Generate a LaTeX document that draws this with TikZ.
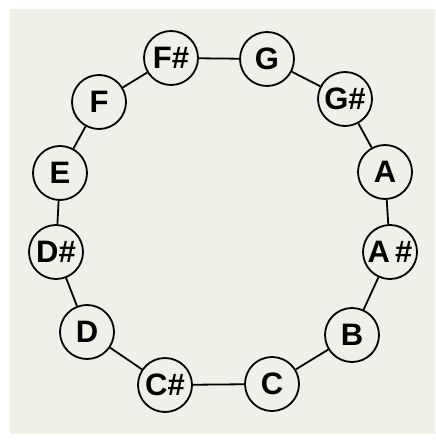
\documentclass[tikz,border=0pt]{standalone}
\usepackage{fontspec}
\setmainfont{Liberation Sans}
\usepackage{tikz}
\definecolor{paper}{RGB}{240,240,233}

\begin{document}
\begin{tikzpicture}[x=1pt, y=-1pt,
		note/.style={draw, circle, line width=1.8pt, fill=paper, minimum size=54pt, inner sep=0pt, font=\fontsize{31}{31}\selectfont\bfseries}]
				\useasboundingbox (0,0) rectangle (435,443);
				\fill[white] (0,0) rectangle (435,443);
				\fill[paper] (10,9) rectangle (435,434);
				\node[note] (fs) at (171,58) {F\#};
				\node[note] (g) at (267,59) {G};
				\node[note] (gs) at (345,99) {G\#};
				\node[note] (a) at (385,172) {A};
				\node[note] (as) at (390,252) {A\,\#};
				\node[note] (b) at (352,335) {B};
				\node[note] (c) at (272,384) {C};
				\node[note] (cs) at (165,385) {C\#};
				\node[note] (d) at (87,332) {D};
				\node[note] (ds) at (56,252) {D\#};
				\node[note] (e) at (60,173) {E};
				\node[note] (f) at (99,102) {F};
				\draw[line width=1.8pt] (fs) -- (g);
				\draw[line width=1.8pt] (g) -- (gs);
				\draw[line width=1.8pt] (gs) -- (a);
				\draw[line width=1.8pt] (a) -- (as);
				\draw[line width=1.8pt] (as) -- (b);
				\draw[line width=1.8pt] (b) -- (c);
				\draw[line width=1.8pt] (c) -- (cs);
				\draw[line width=1.8pt] (cs) -- (d);
				\draw[line width=1.8pt] (d) -- (ds);
				\draw[line width=1.8pt] (ds) -- (e);
				\draw[line width=1.8pt] (e) -- (f);
				\draw[line width=1.8pt] (f) -- (fs);
			\end{tikzpicture}
\end{document}
